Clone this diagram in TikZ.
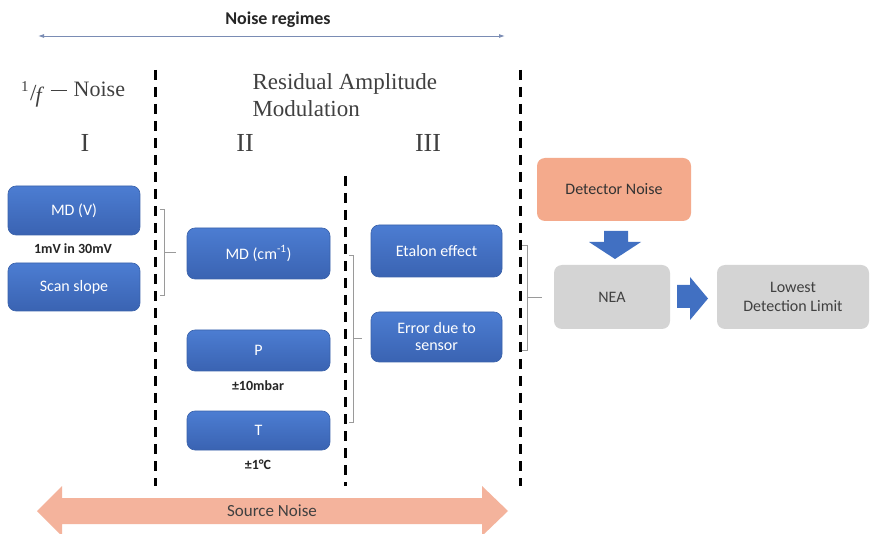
\documentclass[tikz,border=0pt]{standalone}
\usepackage{fontspec}
\setsansfont{Carlito}
\newfontfamily\serifx{Liberation Serif}
\usetikzlibrary{arrows.meta,calc}
\definecolor{bluetop}{HTML}{4C7DD2}
\definecolor{bluebot}{HTML}{3A63B2}
\definecolor{bluebox}{HTML}{4170C2}
\definecolor{blueedge}{HTML}{3A62AA}
\definecolor{orangebox}{HTML}{F4AA8C}
\definecolor{graybox}{HTML}{D4D4D4}
\definecolor{salmon}{HTML}{F4B39C}
\definecolor{regline}{HTML}{7A8CB4}
\definecolor{brk}{HTML}{9A9A9A}
\tikzset{
  bbox/.style={draw=blueedge, line width=0.6pt, top color=bluetop, bottom color=bluebot, rounded corners=8pt, text=white,
    font=\sffamily\fontsize{16}{17}\selectfont, align=center, inner sep=0pt},
  gbox/.style={draw=none, fill=graybox, rounded corners=8pt, text=black!75,
    font=\sffamily\fontsize{16}{19}\selectfont, align=center, inner sep=0pt},
  obox/.style={draw=none, fill=orangebox, rounded corners=8pt, text=black!80,
    font=\sffamily\fontsize{16}{17}\selectfont, align=center, inner sep=0pt},
  note/.style={font=\sffamily\bfseries\fontsize{14}{15}\selectfont, text=black!85},
  serif/.style={font=\serifx\fontsize{23}{27}\selectfont, text=black!75, align=left},
  numeral/.style={font=\serifx\fontsize{26}{27}\selectfont, text=black!75},
  divider/.style={line width=3pt, dash pattern=on 10pt off 7pt, black},
  brack/.style={draw=brk, line width=0.6pt},
  blockarrow/.style={fill=bluebox, draw=none}
}
\begin{document}
\begin{tikzpicture}[x=1pt,y=-1pt]
\useasboundingbox (0,0) rectangle (870,534);
\fill[white] (0,0) rectangle (870,534);

% title and regime arrow
\node[font=\sffamily\bfseries\fontsize{18}{20}\selectfont, text=black!85] (title) at (278,20) {Noise regimes};
\coordinate (rl) at (38,36);
\coordinate (rr) at (505,36);
\draw[regline, line width=0.9pt, {Latex[length=6pt,width=4pt]}-{Latex[length=6pt,width=4pt]}] (rl) -- (rr);

% headings
\node[font=\serifx\fontsize{22}{24}\selectfont, text=black!75, anchor=base west, inner sep=0pt] (onef) at (21,97)
  {\raisebox{5pt}{\fontsize{15}{15}\selectfont 1}\kern1.5pt\raisebox{-4pt}{\fontsize{23}{23}\selectfont /}\kern-1pt\raisebox{-6pt}{\fontsize{22}{22}\selectfont\itshape f}\hspace{9pt}\rule[6pt]{16pt}{1.3pt}\hspace{7pt}Noise};
\node[serif, anchor=north west] (ram) at (249,70) {Residual Amplitude\\Modulation};
\node[numeral] (r1) at (85,143) {I};
\node[numeral] (r2) at (245,143) {II};
\node[numeral] (r3) at (428,143) {III};

% dividers
\coordinate (d1t) at (155,70);  \coordinate (d1b) at (155,486);
\coordinate (d2t) at (345,176); \coordinate (d2b) at (345,486);
\coordinate (d3t) at (520,70);  \coordinate (d3b) at (520,486);
\draw[divider] (d1t) -- (d1b);
\draw[divider] (d2t) -- (d2b);
\draw[divider] (d3t) -- (d3b);

% region I
\node[bbox, minimum width=132pt, minimum height=49pt] (mdv) at (74,210.5) {MD (V)};
\node[note] (n1) at (73,249) {1mV in 30mV};
\node[bbox, minimum width=132pt, minimum height=48pt] (scan) at (74,287) {Scan slope};

% region II
\node[bbox, minimum width=143pt, minimum height=51pt] (mdcm) at (258.5,253.5) {MD (cm\textsuperscript{-1})};
\node[bbox, minimum width=143pt, minimum height=41pt] (p) at (258.5,350.5) {P};
\node[note] (n2) at (258,386) {±10mbar};
\node[bbox, minimum width=143pt, minimum height=39pt] (t) at (258.5,430.5) {T};
\node[note] (n3) at (258,465) {±1°C};

% region III
\node[bbox, minimum width=131pt, minimum height=52pt] (etalon) at (436.5,251) {Etalon effect};
\node[bbox, minimum width=131pt, minimum height=50pt] (err) at (436.5,337) {Error due to\\sensor};

% right side
\node[obox, minimum width=154pt, minimum height=63pt] (det) at (614,189.5) {Detector Noise};
\node[gbox, minimum width=116pt, minimum height=64pt] (nea) at (612,297) {NEA};
\node[gbox, minimum width=152pt, minimum height=64pt] (ldl) at (793,297) {Lowest\\Detection Limit};

% brackets
\draw[brack] (160,209) -- (164,209) -- (164,295) -- (160,295);
\draw[brack] (164,252) -- (176,252);
\draw[brack] (349,255) -- (353,255) -- (353,422) -- (349,422);
\draw[brack] (353,338) -- (362,338);
\draw[brack] (522,245) -- (527,245) -- (527,350) -- (522,350);
\draw[brack] (527,297) -- (542,297);

% block arrows
\fill[blockarrow] (604,231) -- (628,231) -- (628,242) -- (641,242) -- (615,259) -- (589,242) -- (604,242) -- cycle;
\fill[blockarrow] (677,285) -- (690,285) -- (690,277) -- (708,298.5) -- (690,320) -- (690,308) -- (677,308) -- cycle;

% source noise double arrow
\fill[salmon] (37,511) -- (62,486) -- (62,498) -- (482,498) -- (482,486) -- (508,511)
  -- (482,536) -- (482,524) -- (62,524) -- (62,536) -- cycle;
\node[font=\sffamily\fontsize{17}{18}\selectfont, text=black!75] (src) at (272,511) {Source Noise};
\end{tikzpicture}
\end{document}
